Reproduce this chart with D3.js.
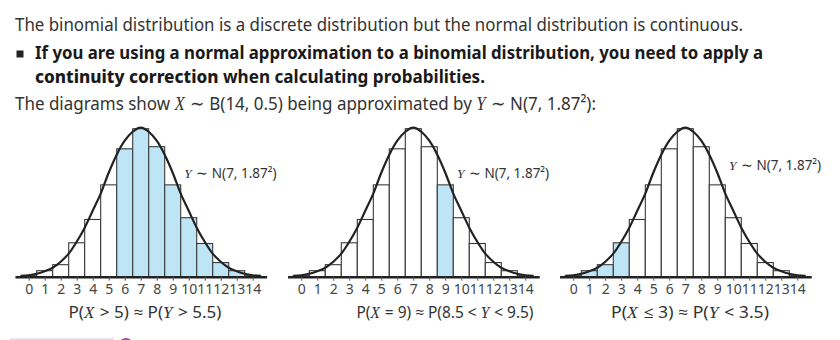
<!DOCTYPE html>
<html>
<head>
<meta charset="utf-8">
<script src="https://cdn.jsdelivr.net/npm/d3@7"></script>
<style>
  body { margin: 0; background: #fff; }
  svg { display: block; }
</style>
</head>
<body>
<svg width="840" height="340"></svg>
<script>
'use strict';
// values (bar heights and curve in probability units)
var xValues = [0, 1, 2, 3, 4, 5, 6, 7, 8, 9, 10, 11, 12, 13, 14];
var barProbs = [0.0014, 0.0085, 0.017, 0.048, 0.081, 0.130, 0.181, 0.2095,
  0.184, 0.130, 0.0835, 0.047, 0.020, 0.0085, 0.0014];
var curveXs = [-0.5, 0, 0.5, 1, 1.5, 2, 2.5, 3, 3.5, 4, 4.5, 5, 5.5, 6, 6.5, 7,
  7.5, 8, 8.5, 9, 9.5, 10, 10.5, 11, 11.5, 12, 12.5, 13, 13.5, 14, 14.5];
var curveProbs = [0.0011, 0.0021, 0.0042, 0.0078, 0.0127, 0.0212, 0.0326, 0.0495,
  0.0694, 0.0934, 0.1175, 0.1472, 0.1727, 0.1925, 0.2052, 0.2109, 0.2052, 0.1925,
  0.1727, 0.1472, 0.1175, 0.0934, 0.0694, 0.0495, 0.0326, 0.0212, 0.0127, 0.0078,
  0.0042, 0.0021, 0.0011];
var shadedA = [6, 7, 8, 9, 10, 11, 12, 13, 14];
var shadedB = [9];
var shadedC = [0, 1, 2, 3];
var captions = ['P(X > 5) ≈ P(Y > 5.5)', 'P(X = 9) ≈ P(8.5 < Y < 9.5)', 'P(X ≤ 3) ≈ P(Y < 3.5)'];
var curveLabel = 'Y ∼ N(7, 1.87²)';

var headLine1 = 'The binomial distribution is a discrete distribution but the normal distribution is continuous.';
var headLine2 = 'If you are using a normal approximation to a binomial distribution, you need to apply a';
var headLine3a = 'continuity correction';
var headLine3b = ' when calculating probabilities.';
var headLine4 = 'The diagrams show X ∼ B(14, 0.5) being approximated by Y ∼ N(7, 1.87²):';

var SANS = '"Noto Sans", "Open Sans", sans-serif';
var SERIF = '"Liberation Serif", "DejaVu Serif", serif';
var svg = d3.select('svg');
var axisY = 276.7;

svg.append('rect').attr('width', 840).attr('height', 340).attr('fill', '#fff');

// text with italic serif X and Y, a little gap after each
function mathText(sel, str) {
  var afterItalic = false;
  str.split(/([XY])/).forEach(part => {
    if (!part) return;
    var t = sel.append('tspan').text(part);
    if (afterItalic) t.attr('dx', 1);
    afterItalic = part === 'X' || part === 'Y';
    if (afterItalic) {
      t.attr('font-family', SERIF).attr('font-style', 'italic');
    }
  });
  return sel;
}
function fit(sel, w) {
  return sel.attr('textLength', w).attr('lengthAdjust', 'spacingAndGlyphs');
}

// heading text
var head = svg.append('g').attr('font-family', SANS);
fit(head.append('text').attr('x', 15).attr('y', 30.7)
  .attr('font-size', 18.5).attr('fill', '#333').text(headLine1), 728);
head.append('rect').attr('x', 16.5).attr('y', 50.5).attr('width', 7).attr('height', 7).attr('fill', '#222');
fit(head.append('text').attr('x', 35).attr('y', 59.3)
  .attr('font-size', 18).attr('font-weight', 700).attr('fill', '#1a1a1a').text(headLine2), 728);
var l3 = head.append('text').attr('x', 35).attr('y', 82.8)
  .attr('font-size', 18).attr('font-weight', 700).attr('fill', '#1a1a1a');
l3.append('tspan').attr('font-weight', 800).text(headLine3a);
l3.append('tspan').text(headLine3b);
fit(l3, 450);
fit(mathText(head.append('text').attr('x', 15).attr('y', 110)
  .attr('font-size', 18.5).attr('fill', '#333'), headLine4), 581);

// the three diagrams
var x = d3.scaleLinear().domain([-0.86, 14.87]).range([-13.76, 237.92]);
var y = d3.scaleLinear().domain([0, 0.2095]).range([axisY, axisY - 148]);
var panelX = [28.7, 301.3, 573.3];
var shaded = [shadedA, shadedB, shadedC];
var labelY = [177.5, 177.5, 169.5];
var captionX = [145, 445, 690];
var captionW = [153, 177, 158];

var bw = x(1) - x(0);
var line = d3.line()
  .x((d, i) => x(curveXs[i]))
  .y(d => y(d))
  .curve(d3.curveMonotoneX);

panelX.forEach((px, p) => {
  var g = svg.append('g').attr('transform', `translate(${px},0)`);

  g.selectAll('rect.bar').data(xValues)
    .enter().append('rect')
      .attr('class', 'bar')
      .attr('x', d => x(d - 0.5))
      .attr('width', bw)
      .attr('y', (d, i) => y(barProbs[i]))
      .attr('height', (d, i) => axisY - y(barProbs[i]))
      .attr('fill', d => shaded[p].includes(d) ? '#bee5f6' : '#fff')
      .attr('stroke', '#3a3a3a')
      .attr('stroke-width', 1.1);

  g.append('path')
    .datum(curveProbs)
    .attr('d', line)
    .attr('fill', 'none')
    .attr('stroke', '#222')
    .attr('stroke-width', 2.2);

  var ax = g.append('g')
    .attr('transform', `translate(0,${axisY})`)
    .call(d3.axisBottom(x).tickValues(xValues).tickSizeInner(4).tickSizeOuter(0).tickPadding(3));
  ax.select('.domain').attr('stroke', '#222').attr('stroke-width', 2.5);
  ax.selectAll('.tick line').attr('stroke', '#555');
  ax.selectAll('.tick text')
    .attr('font-family', SANS).attr('font-size', 14).attr('fill', '#444');

  mathText(g.append('text')
    .attr('x', 155.6).attr('y', labelY[p])
    .attr('font-family', SANS).attr('font-size', 13.5).attr('fill', '#333'), curveLabel);

  fit(mathText(svg.append('text')
    .attr('x', captionX[p]).attr('y', 318)
    .attr('text-anchor', 'middle')
    .attr('font-family', SANS).attr('font-size', 16).attr('fill', '#333'), captions[p]), captionW[p]);
});

// purple mark cut off at the bottom edge
svg.append('rect').attr('x', 10).attr('y', 338.3).attr('width', 104).attr('height', 2).attr('fill', '#ead8ee');
svg.append('ellipse').attr('cx', 126).attr('cy', 360).attr('rx', 13).attr('ry', 22).attr('fill', '#a24ea6');
</script>
</body>
</html>
